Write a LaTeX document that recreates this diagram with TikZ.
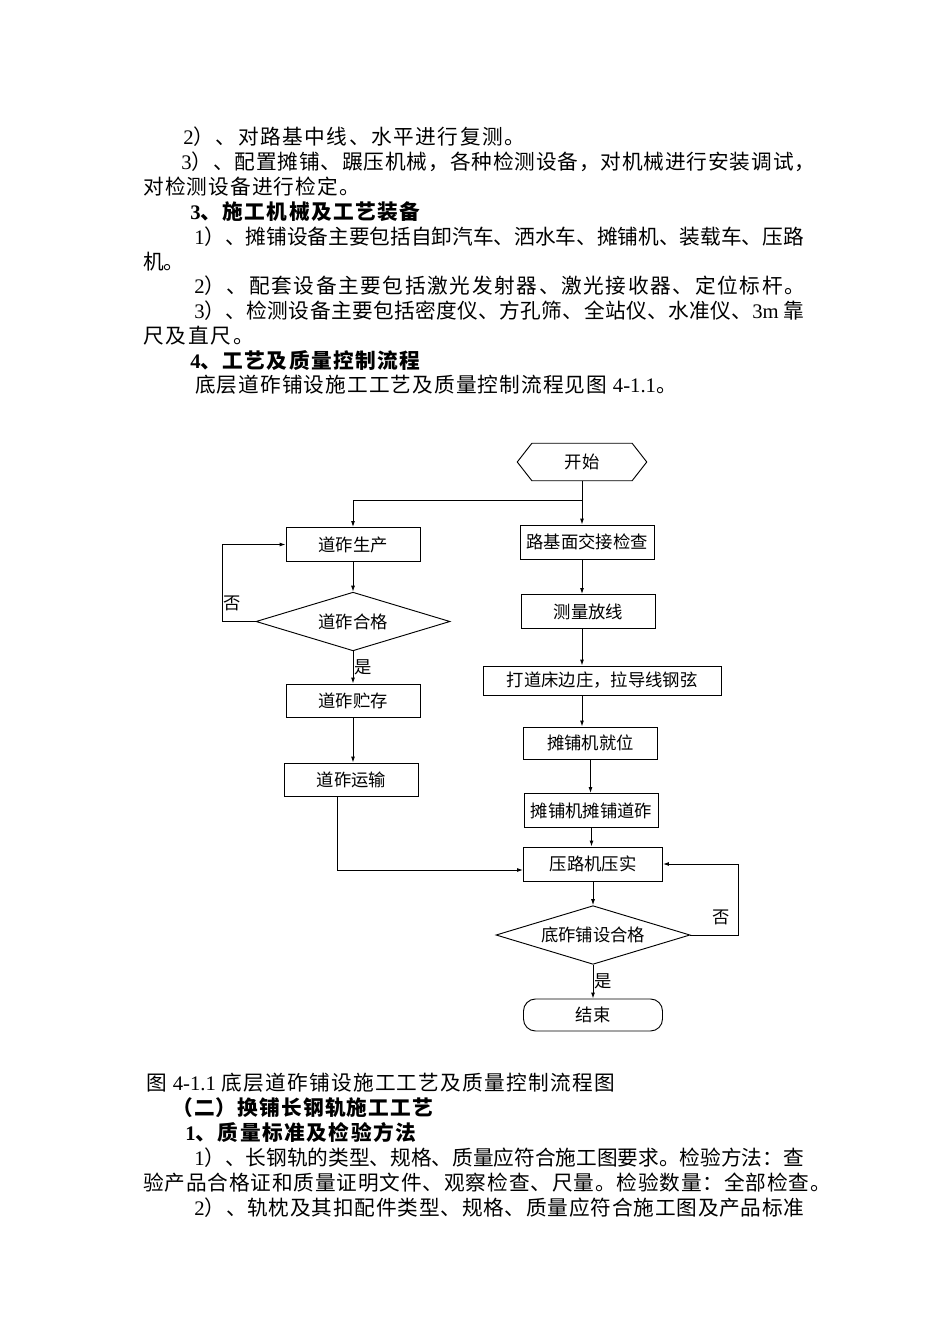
\documentclass[tikz,border=0pt]{standalone}
\usepackage{fontspec}
\setmainfont{Noto Sans CJK SC}
\newfontfamily\lat{Liberation Serif}
\usepackage{tikz}
\usetikzlibrary{shapes.geometric,arrows.meta}

\begin{document}
\begin{tikzpicture}[x=0.75pt,y={(0pt,-0.75pt)}]
          \tikzset{
            TextStyle/.style = { anchor=base west, inner sep=0pt,
              font = \fontsize{15.5}{18}\selectfont\addfontfeature{LetterSpace=#1} },
            TextStyle/.default = 0,
            HeadStyle/.style = { anchor=base west, inner sep=0pt,
              font = \fontsize{15.5}{18}\selectfont\bfseries\addfontfeature{LetterSpace=#1} },
            HeadStyle/.default = 0,
            BoxStyle/.style = { rectangle, draw, line width=0.7pt, inner sep=0pt,
              minimum width = 100.5pt, minimum height = 25.5pt,
              font = \fontsize{13}{15}\selectfont },
            TestStyle/.style = { diamond, draw, line width=0.7pt, inner sep=0pt,
              aspect = 3.3, minimum width = 145.5pt, minimum height = 44pt,
              font = \fontsize{13}{15}\selectfont },
            MarkStyle/.style = { inner sep=1pt,
              font = \fontsize{13}{15}\selectfont },
            LinkStyle/.style = { line width=0.7pt, ->,
              >={Latex[length=4.5pt,width=3pt]} } }

          \fill[white] (0,0) rectangle (950,1344);
          \useasboundingbox (0,0) rectangle (950,1344);

          % text above the chart
          \node[TextStyle=7.5] (L1) at (183,145) {{\lat 2}）、对路基中线、水平进行复测。};
          \node[TextStyle=4.2] (L2) at (181,170) {{\lat 3}）、配置摊铺、蹍压机械，各种检测设备，对机械进行安装调试，};
          \node[TextStyle=5.3] (L3) at (143,195) {对检测设备进行检定。};
          \node[HeadStyle=7] (L4) at (190,220) {{\lat 3}、施工机械及工艺装备};
          \node[TextStyle] (L5) at (194,245) {{\lat 1}）、摊铺设备主要包括自卸汽车、洒水车、摊铺机、装载车、压路};
          \node[TextStyle] (L6) at (143,270) {机。};
          \node[TextStyle=7.9] (L7) at (194,294) {{\lat 2}）、配套设备主要包括激光发射器、激光接收器、定位标杆。};
          \node[TextStyle=2] (L8) at (194,319) {{\lat 3}）、检测设备主要包括密度仪、方孔筛、全站仪、水准仪、{\lat 3m} 靠};
          \node[TextStyle=8.7] (L9) at (143,344) {尺及直尺。};
          \node[HeadStyle=7] (L10) at (190,368) {{\lat 4}、工艺及质量控制流程};
          \node[TextStyle=5.2] (L11) at (195,392) {底层道砟铺设施工工艺及质量控制流程见图 {\lat 4-1.1}。};

          % flow chart
          \node[minimum width=96.75pt, minimum height=27.75pt,
            font=\fontsize{13}{15}\selectfont] (START) at (582,462) {开始};
          \draw[line width=0.7pt] (START.west) -- ([xshift=11pt]START.north west)
            -- ([xshift=-11pt]START.north east) -- (START.east)
            -- ([xshift=-11pt]START.south east) -- ([xshift=11pt]START.south west) -- cycle;
          \coordinate (FORK) at (582,500);

          \node[BoxStyle] (PRODUCE) at (353,544.5) {道砟生产};
          \node[TestStyle] (PASS1) at (353,621.5) {道砟合格};
          \node[BoxStyle, minimum height=24.75pt] (STORE) at (353,700.5) {道砟贮存};
          \node[BoxStyle, minimum height=24.75pt] (TRANSPORT) at (351.5,779.5) {道砟运输};

          \node[BoxStyle] (SUBGRADE) at (587,542) {路基面交接检查};
          \node[BoxStyle] (SURVEY) at (588.5,611.5) {测量放线};
          \node[BoxStyle, minimum width=178.5pt, minimum height=21.75pt] (STAKES) at (602,680.5) {打道床边庄，拉导线钢弦};
          \node[BoxStyle, minimum height=24pt] (PAVERPOS) at (590.5,743) {摊铺机就位};
          \node[BoxStyle] (PAVE) at (591.5,810.5) {摊铺机摊铺道砟};
          \node[BoxStyle, minimum width=104.25pt] (ROLL) at (593,864) {压路机压实};
          \node[TestStyle] (PASS2) at (593,935) {底砟铺设合格};
          \node[BoxStyle, rounded corners=9pt, minimum width=104.25pt,
            minimum height=24pt] (FINISH) at (593,1015) {结束};

          \draw[line width=0.7pt] (START) -- (FORK);
          \draw[LinkStyle] (FORK) -| (PRODUCE.north);
          \draw[LinkStyle] (FORK) -- (FORK |- SUBGRADE.north);
          \draw[LinkStyle] (SUBGRADE.south -| FORK) -- (SURVEY.north -| FORK);
          \draw[LinkStyle] (SURVEY.south -| FORK) -- (STAKES.north -| FORK);
          \draw[LinkStyle] (STAKES.south -| FORK) -- (PAVERPOS.north -| FORK);
          \draw[LinkStyle] (PAVERPOS) -- (PAVERPOS |- PAVE.north);
          \draw[LinkStyle] (PAVE) -- (PAVE |- ROLL.north);
          \draw[LinkStyle] (ROLL) -- (PASS2);
          \draw[LinkStyle] (PASS2) -- (FINISH) node[MarkStyle, right, midway] (YES2) {是};
          \draw[LinkStyle] (PASS2.east) -- ++(48,0) |- (ROLL.east);
          \node[MarkStyle] (NO2) at (721,917) {否};

          \draw[LinkStyle] (PRODUCE) -- (PASS1);
          \draw[LinkStyle] (PASS1.west) -- ++(-33,0) |- (PRODUCE.west);
          \node[MarkStyle] (NO1) at (232,603) {否};
          \draw[LinkStyle] (PASS1) -- (STORE) node[MarkStyle, right, midway] (YES1) {是};
          \draw[LinkStyle] (STORE) -- (STORE |- TRANSPORT.north);
          \draw[LinkStyle] ([xshift=-10.875pt]TRANSPORT.south) |- ([yshift=-4.5pt]ROLL.west);

          % text below the chart
          \node[TextStyle=6] (C1) at (146,1090) {图 {\lat 4-1.1} 底层道砟铺设施工工艺及质量控制流程图};
          \node[HeadStyle=5.6] (C2) at (172,1115) {（二）换铺长钢轨施工工艺};
          \node[HeadStyle=7.5] (C3) at (185,1140) {{\lat 1}、质量标准及检验方法};
          \node[TextStyle] (C4) at (194,1165) {{\lat 1}）、长钢轨的类型、规格、质量应符合施工图要求。检验方法：查};
          \node[TextStyle=4.1] (C5) at (143,1190) {验产品合格证和质量证明文件、观察检查、尺量。检验数量：全部检查。};
          \node[TextStyle=3.8] (C6) at (194,1215) {{\lat 2}）、轨枕及其扣配件类型、规格、质量应符合施工图及产品标准};
          % \draw[red] (0,0) grid[step=50] (950,1344);
        \end{tikzpicture}
\end{document}
